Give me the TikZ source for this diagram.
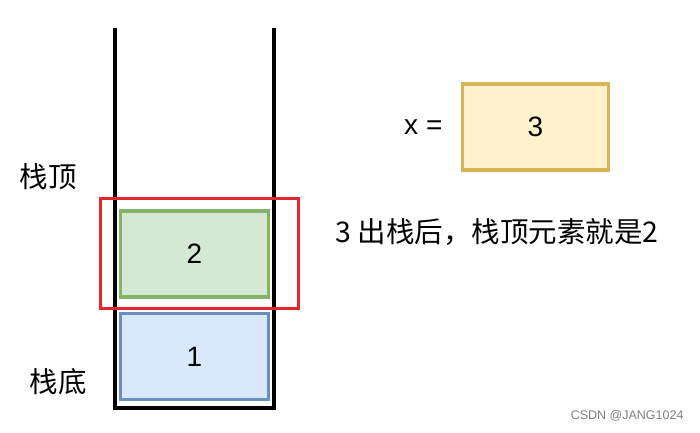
\documentclass[tikz,border=0pt]{standalone}
\usepackage{fontspec}
\setmainfont{Liberation Sans}
\newfontfamily\cjk{Noto Sans CJK SC}
\usetikzlibrary{positioning}
\definecolor{greenfill}{HTML}{D5E8D4}
\definecolor{greenline}{HTML}{82B366}
\definecolor{bluefill}{HTML}{DAE8FC}
\definecolor{blueline}{HTML}{6C8EBF}
\definecolor{yellowfill}{HTML}{FFF2CC}
\definecolor{yellowline}{HTML}{D6B656}
\definecolor{popred}{HTML}{E5262B}

\begin{document}
\begin{tikzpicture}[x=1pt,y=-1pt,
 cell/.style={draw,line width=3.2pt,minimum width=148pt,minimum height=86pt,font=\fontsize{28}{30}\selectfont},
 lbl/.style={font=\fontsize{28.5}{30}\selectfont\cjk}]
 \useasboundingbox (0,0) rectangle (700,432);
 % stack walls
 \draw[line width=3.2pt] (115,28) |- (274,408) -- (274,28);
 \node[cell,fill=bluefill,draw=blueline] (one) at (194.5,356.5) {1};
 \node[cell,fill=greenfill,draw=greenline] (two) at (194.5,254) {2};
 \node[draw=popred,line width=3pt,minimum width=198pt,minimum height=110pt] (top) at (199,253) {};
 \node[lbl] (toplbl) at (48,177) {栈顶};
 \node[lbl] (botlbl) at (58,382) {栈底};
 % popped value
 \node[cell,fill=yellowfill,draw=yellowline,minimum width=146pt] (x) at (535.5,127) {3};
 \node[font=\fontsize{28}{30}\selectfont,left=15pt of x] (xeq) {x =};
 \node[lbl] (note) at (497,232) {3 出栈后，栈顶元素就是2};
 \node[font=\fontsize{12.5}{14}\selectfont,text=gray,anchor=east] (mark) at (687,416) {CSDN @JANG1024};
\end{tikzpicture}
\end{document}
